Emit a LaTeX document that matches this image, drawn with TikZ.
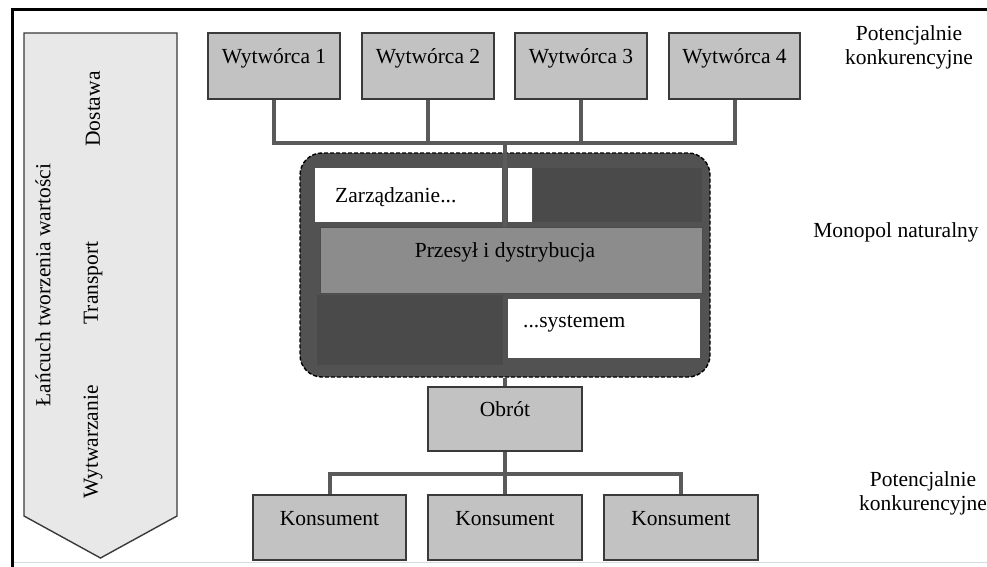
\documentclass[tikz,border=0pt]{standalone}
\usepackage{fontspec}
\setmainfont{Liberation Serif}
\definecolor{boxfill}{HTML}{C2C2C2}
\definecolor{boxline}{HTML}{3A3A3A}
\definecolor{connc}{HTML}{5A5A5A}
\definecolor{monofill}{HTML}{525252}
\definecolor{monodark}{HTML}{4A4A4A}
\definecolor{midfill}{HTML}{8C8C8C}
\definecolor{chevfill}{HTML}{E8E8E8}
\begin{document}
\begin{tikzpicture}[x=1pt,y=-1pt,
  every node/.style={font=\fontsize{21.5}{24}\selectfont, inner sep=0pt},
  box/.style={draw=boxline, line width=1.3pt, fill=boxfill, text height=14pt, text depth=19pt},
  whitebox/.style={draw=none, fill=white},
  conn/.style={draw=connc, line width=4pt},
  sidelbl/.style={align=center},
  chevlbl/.style={rotate=90}]
\useasboundingbox (0,0) rectangle (987,567);
% frame
\draw[gray!30, line width=0.8pt] (12,562) -- (987,562);
\draw[black, line width=3pt] (12,567) -- (12,10) -- (987,10);
% chevron
\draw[draw=boxline, line width=1.4pt, fill=chevfill] (24,33) -- (177,33) -- (177,516) -- (100.5,558) -- (24,516) -- cycle;
\node[chevlbl] (lanc) at (43,285) {Łańcuch tworzenia wartości};
\node[chevlbl] (dost) at (93,109) {Dostawa};
\node[chevlbl] (trans) at (93,283) {Transport};
\node[chevlbl] (wytw) at (93,442) {Wytwarzanie};
% producers
\node[box, minimum width=132, minimum height=66] (w1) at (274,66) {Wytwórca 1};
\node[box, minimum width=132, minimum height=66] (w2) at (428,66) {Wytwórca 2};
\node[box, minimum width=132, minimum height=66] (w3) at (581,66) {Wytwórca 3};
\node[box, minimum width=131, minimum height=66] (w4) at (734.5,66) {Wytwórca 4};
\coordinate (jt) at (505,143);
\draw[conn] (w1.south) |- (jt) -| (w4.south);
\draw[conn] (w2.south) -- (w2.south |- jt);
\draw[conn] (w3.south) -- (w3.south |- jt);
% natural monopoly block
\node[draw=black, line width=1.4pt, dash pattern=on 4pt off 2pt, fill=monofill, rounded corners=22pt, minimum width=410, minimum height=224] (mono) at (505,265) {};
\node[box, draw=gray!60!black, line width=0.8pt, fill=midfill, minimum width=382, minimum height=66] (przes) at (511,260) {\hspace*{-12pt}Przesył i dystrybucja};
\draw[conn] (jt) -- (jt |- przes.north);
\node[whitebox, minimum width=187, minimum height=54] (zarz) at (408.5,195) {};
\node[anchor=west] (zarzt) at (335,197) {Zarządzanie...};
\node[whitebox, minimum width=24, minimum height=54] (zsmall) at (520,195) {};
\node[fill=monodark, minimum width=169, minimum height=54] (zdark) at (617.5,195) {};
\node[fill=monodark, minimum width=186, minimum height=70] (sdark) at (410,330) {};
\node[whitebox, minimum width=192, minimum height=59] (syst) at (604,328.5) {};
\node[anchor=west] (systt) at (523,324) {...systemem};
% trade and consumers
\node[box, minimum width=154, minimum height=64] (obrot) at (505,419) {Obrót};
\draw[conn] (mono.south) -- (obrot.north);
\node[box, minimum width=153, minimum height=65] (k1) at (329.5,527.5) {Konsument};
\node[box, minimum width=154, minimum height=65] (k2) at (505,527.5) {Konsument};
\node[box, minimum width=154, minimum height=65] (k3) at (681,527.5) {Konsument};
\coordinate (jb) at (505,474);
\draw[conn] (obrot.south) -- (k2.north);
\draw[conn] (k1.north) |- (jb) -| (k3.north);
% side labels
\node[sidelbl] (pk1) at (909,47.5) {Potencjalnie\\konkurencyjne};
\node[sidelbl] (mn) at (896,232) {Monopol naturalny};
\node[sidelbl] (pk2) at (923,493) {Potencjalnie\\konkurencyjne};
\end{tikzpicture}
\end{document}
